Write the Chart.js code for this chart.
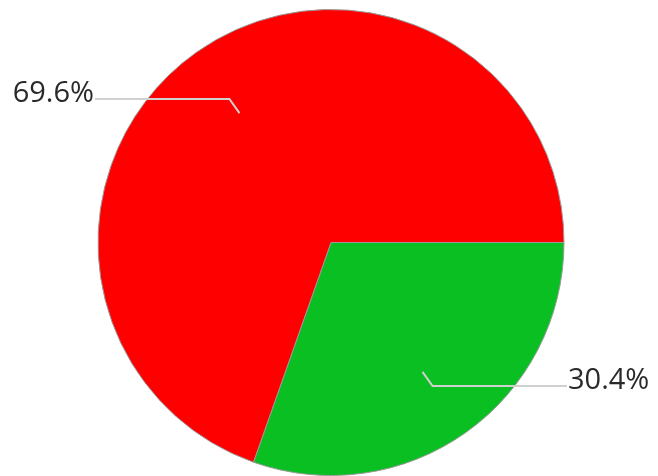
<!DOCTYPE html>
<html>
<head>
<meta charset="utf-8">
<script src="https://cdn.jsdelivr.net/npm/chart.js@4"></script>
<style>
  html, body { margin: 0; padding: 0; background: #fff; }
  #wrap { width: 658px; height: 476px; }
</style>
</head>
<body>
<div id="wrap"><canvas id="pieChart" width="658" height="476"></canvas></div>
<script>
// data
const categories = ["Category 1", "Category 2"];
const shares = [30.4, 69.6];
const sliceColors = ["#0abf21", "#ff0000"];

// leader lines + percent labels outside the pie
const outsideLabels = {
  id: "outsideLabels",
  afterDraw(chart) {
    const ctx = chart.ctx;
    const meta = chart.getDatasetMeta(0);
    const total = shares.reduce((s, v) => s + v, 0);
    ctx.save();
    ctx.font = "29px 'Open Sans', sans-serif";
    meta.data.forEach((arc, i) => {
      const mid = (arc.startAngle + arc.endAngle) / 2;
      const r = arc.outerRadius;
      const cos = Math.cos(mid), sin = Math.sin(mid);
      const x0 = arc.x + cos * r * 0.68, y0 = arc.y + sin * r * 0.68;
      const x1 = arc.x + cos * r * 0.755, y1 = arc.y + sin * r * 0.755;
      const right = cos >= 0;
      const x2 = arc.x + (right ? 1 : -1) * (r + 3);

      ctx.strokeStyle = "#d0d0d0";
      ctx.lineWidth = 2;
      ctx.beginPath();
      ctx.moveTo(x0, y0);
      ctx.lineTo(x1, y1);
      ctx.lineTo(x2, y1);
      ctx.stroke();

      const txt = (shares[i] / total * 100).toFixed(1) + "%";
      ctx.fillStyle = "#2a2a2a";
      ctx.textBaseline = "alphabetic";
      ctx.textAlign = right ? "left" : "right";
      ctx.fillText(txt, x2 + (right ? 1 : -1), y1 + 3);
    });
    ctx.restore();
  }
};

new Chart(document.getElementById("pieChart").getContext("2d"), {
  type: "pie",
  data: {
    labels: categories,
    datasets: [
      {
        data: shares,
        backgroundColor: sliceColors,
        borderColor: "#9a9a9a",
        borderWidth: 1
      }
    ]
  },
  options: {
    responsive: false,
    animation: false,
    devicePixelRatio: 1,
    rotation: 90,
    layout: { padding: { top: 9, left: 4 } },
    plugins: {
      legend: { display: false },
      tooltip: { enabled: false }
    }
  },
  plugins: [outsideLabels]
});
</script>
</body>
</html>
